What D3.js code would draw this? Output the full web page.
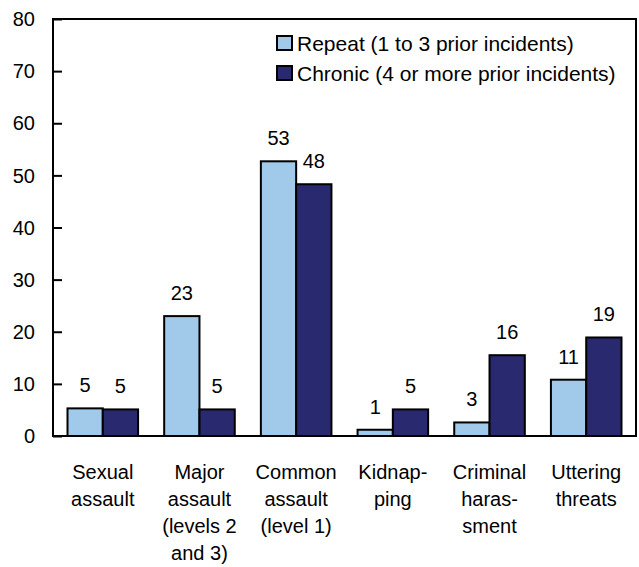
<!DOCTYPE html>
<html><head><meta charset="utf-8">
<script src="https://cdn.jsdelivr.net/npm/d3@7"></script>
<style>body{margin:0;background:#fff}svg{display:block}text{font-family:"Liberation Sans",Arial,Helvetica,sans-serif;fill:#000}</style>
</head><body><svg id="c" width="639" height="567"></svg>
<script>
const categories = ["Sexual assault","Major assault (levels 2 and 3)","Common assault (level 1)","Kidnapping","Criminal harassment","Uttering threats"];
const categoryLines = [["Sexual","assault"],["Major","assault","(levels 2","and 3)"],["Common","assault","(level 1)"],["Kidnap-","ping"],["Criminal","haras-","sment"],["Uttering","threats"]];
const seriesNames = ["Repeat (1 to 3 prior incidents)","Chronic (4 or more prior incidents)"];
const repeatValues = [5.3, 23.0, 52.7, 1.2, 2.6, 10.8];
const chronicValues = [5.1, 5.1, 48.3, 5.1, 15.5, 18.9];
const repeatLabels = ["5","23","53","1","3","11"];
const chronicLabels = ["5","5","48","5","16","19"];
const yTicks = [0,10,20,30,40,50,60,70,80];
const colors = ["#a0c9ea","#29296f"];

const svg = d3.select("#c");
const L=53, R=636, T=19, B=436, FS=20;
const x = d3.scaleBand().domain(categories).range([L,R]).paddingInner(0.27).paddingOuter(0.15);
const xs = d3.scaleBand().domain([0,1]).range([0,x.bandwidth()]);
const y = d3.scaleLinear().domain([0,80]).range([B,T]);

// frame
svg.append("rect").attr("x",L).attr("y",T).attr("width",R-L).attr("height",B-T)
  .attr("fill","none").attr("stroke","#000").attr("stroke-width",2);

// y axis
const ya = svg.append("g").attr("transform",`translate(${L},0)`)
  .call(d3.axisRight(y).tickValues(yTicks).tickSize(9).tickFormat(""));
ya.select(".domain").remove();
ya.selectAll("line").attr("stroke","#000").attr("stroke-width",2);
svg.append("g").selectAll("text").data(yTicks).join("text")
  .attr("x",35).attr("y",d=>y(d)).attr("dy","0.36em").attr("text-anchor","end")
  .attr("font-size",FS).text(d=>d);

const series = [repeatValues, chronicValues];
const labels = [repeatLabels, chronicLabels];
series.forEach((vals,si)=>{
  const g = svg.append("g");
  g.selectAll("rect").data(vals).join("rect")
    .attr("x",(d,i)=>x(categories[i])+xs(si))
    .attr("y",d=>y(d)).attr("width",xs.bandwidth()).attr("height",d=>B-y(d))
    .attr("fill",colors[si]).attr("stroke","#000").attr("stroke-width",2);
  g.selectAll("text").data(vals).join("text")
    .attr("x",(d,i)=>x(categories[i])+xs(si)+xs.bandwidth()/2)
    .attr("y",d=>y(d)-16).attr("text-anchor","middle").attr("font-size",FS)
    .text((d,i)=>labels[si][i]);
});

// x labels
categoryLines.forEach((lines,i)=>{
  const t = svg.append("text").attr("text-anchor","middle").attr("font-size",FS);
  lines.forEach((ln,j)=>{
    t.append("tspan").attr("x",x(categories[i])+x.bandwidth()/2).attr("y",479+27*j).text(ln);
  });
});

// legend
const lg = svg.append("g");
seriesNames.forEach((n,i)=>{
  const cy = 43 + i*30;
  lg.append("rect").attr("x",277).attr("y",cy-7).attr("width",15).attr("height",14)
    .attr("fill",colors[i]).attr("stroke","#000").attr("stroke-width",2);
  lg.append("text").attr("x",297).attr("y",cy).attr("dy","0.36em").attr("font-size",21).text(n);
});
</script></body></html>
